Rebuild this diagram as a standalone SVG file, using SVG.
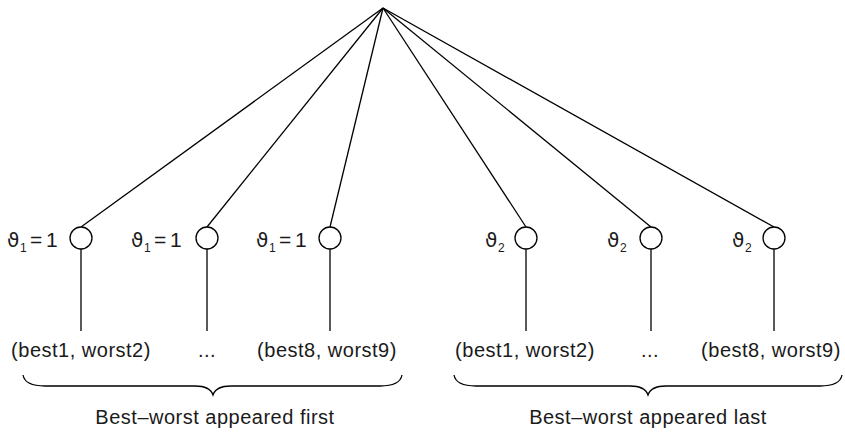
<svg xmlns="http://www.w3.org/2000/svg" width="845" height="435" viewBox="0 0 845 435">
<style>
.ln{stroke:#000;stroke-width:1.3;fill:none}
.nd{stroke:#000;stroke-width:1.3;fill:#fff}
.t{font-family:"Liberation Sans","DejaVu Sans",Arial,sans-serif;font-size:20px;fill:#1a1a1a;letter-spacing:0.5px}
.th{font-family:"DejaVu Sans","Liberation Sans",sans-serif;font-size:20px;fill:#1a1a1a}
.eq{font-family:"Liberation Sans",Arial,sans-serif;font-size:21px;fill:#1a1a1a}
.sub{font-family:"Liberation Sans",Arial,sans-serif;font-size:12px;fill:#1a1a1a}
.m{text-anchor:middle}
</style>
<rect width="845" height="435" fill="#fff"/>
<g id="connectors">
<line class="ln" x1="383" y1="8" x2="81" y2="227"/>
<line class="ln" x1="383" y1="8" x2="207" y2="227"/>
<line class="ln" x1="383" y1="8" x2="330" y2="227"/>
<line class="ln" x1="383" y1="8" x2="526" y2="227"/>
<line class="ln" x1="383" y1="8" x2="651" y2="227"/>
<line class="ln" x1="383" y1="8" x2="774" y2="227"/>
<line class="ln" x1="81" y1="249" x2="81" y2="331"/>
<line class="ln" x1="207" y1="249" x2="207" y2="331"/>
<line class="ln" x1="330" y1="249" x2="330" y2="331"/>
<line class="ln" x1="526" y1="249" x2="526" y2="331"/>
<line class="ln" x1="651" y1="249" x2="651" y2="331"/>
<line class="ln" x1="774" y1="249" x2="774" y2="331"/>
</g>
<g id="n1"><circle class="nd" cx="81" cy="238" r="11"/><text class="th" x="7" y="247">ϑ</text><text class="sub" x="20" y="252">1</text><text class="eq" x="30" y="247">=</text><text class="eq" x="46" y="247">1</text></g>
<g id="n2"><circle class="nd" cx="207" cy="238" r="11"/><text class="th" x="131" y="247">ϑ</text><text class="sub" x="144" y="252">1</text><text class="eq" x="154" y="247">=</text><text class="eq" x="170" y="247">1</text></g>
<g id="n3"><circle class="nd" cx="330" cy="238" r="11"/><text class="th" x="256" y="247">ϑ</text><text class="sub" x="269" y="252">1</text><text class="eq" x="279" y="247">=</text><text class="eq" x="295" y="247">1</text></g>
<g id="n4"><circle class="nd" cx="526" cy="238" r="11"/><text class="th" x="485" y="247">ϑ</text><text class="sub" x="498" y="252">2</text></g>
<g id="n5"><circle class="nd" cx="651" cy="238" r="11"/><text class="th" x="607" y="247">ϑ</text><text class="sub" x="620" y="252">2</text></g>
<g id="n6"><circle class="nd" cx="774" cy="238" r="11"/><text class="th" x="732" y="247">ϑ</text><text class="sub" x="745" y="252">2</text></g>
<g id="leaf1"><text class="t m" x="81" y="357">(best1, worst2)</text></g>
<g id="leaf2"><text class="t m" x="207" y="357">...</text></g>
<g id="leaf3"><text class="t m" x="327" y="357">(best8, worst9)</text></g>
<g id="leaf4"><text class="t m" x="525" y="357">(best1, worst2)</text></g>
<g id="leaf5"><text class="t m" x="650" y="357">...</text></g>
<g id="leaf6"><text class="t m" x="771" y="357">(best8, worst9)</text></g>
<g id="brace1">
<path class="ln" d="M23 375 Q25 386 45 386 L195 386 Q210 386 213 395 Q216 386 231 386 L380 386 Q400 386 402 375"/>
<text class="t m" x="215" y="424">Best–worst appeared first</text>
</g>
<g id="brace2">
<path class="ln" d="M454 375 Q456 386 476 386 L630 386 Q645 386 648 395 Q651 386 666 386 L820 386 Q840 386 842 375"/>
<text class="t m" x="648" y="424">Best–worst appeared last</text>
</g>
</svg>
